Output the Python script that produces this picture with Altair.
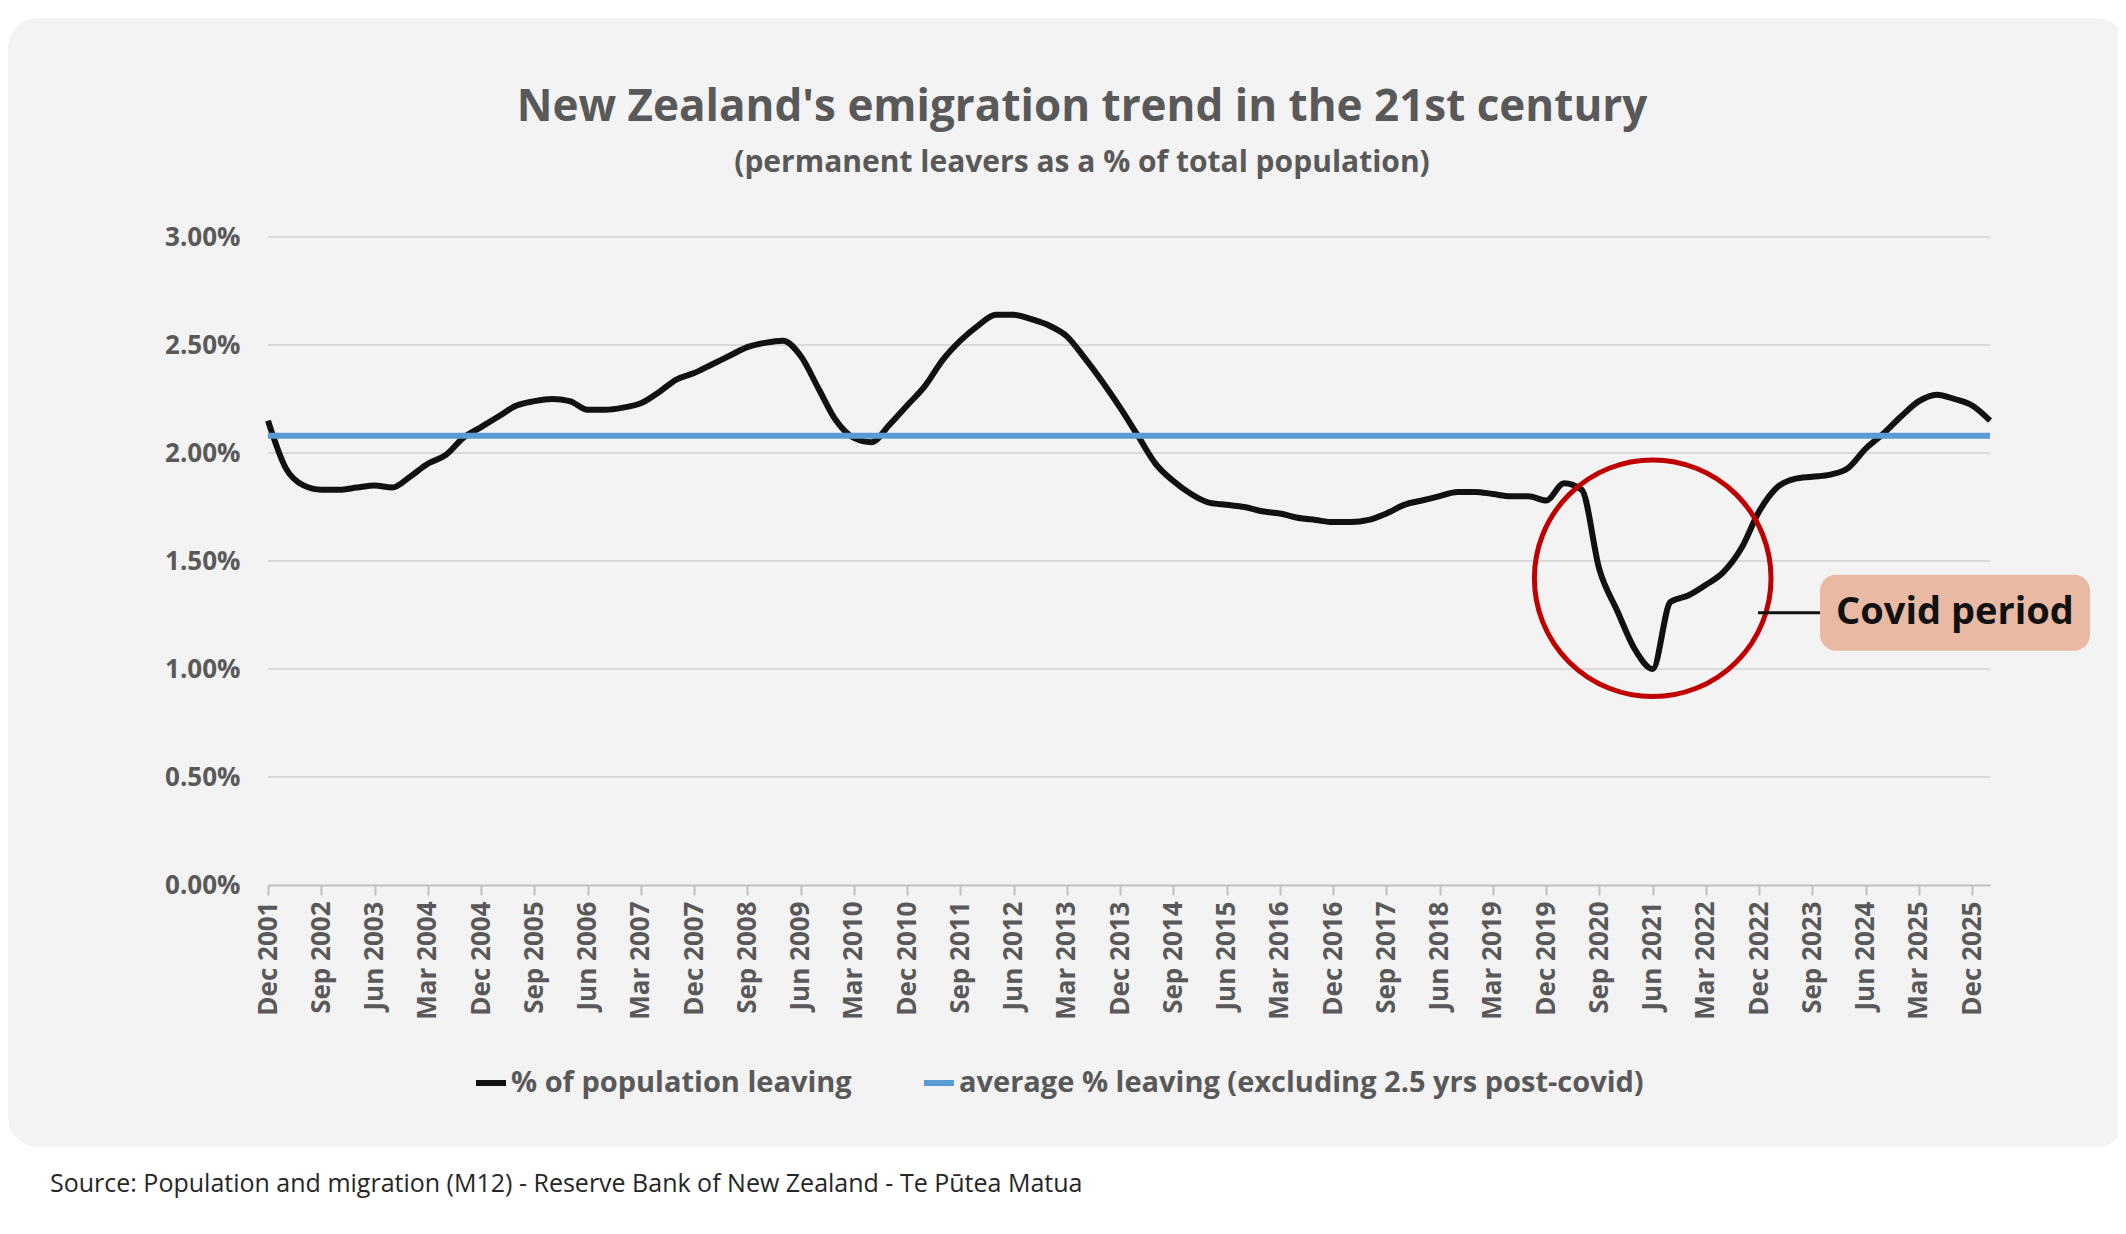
import altair as alt
import pandas as pd

months = ["Mar", "Jun", "Sep", "Dec"]
quarters = ["Dec 2001"] + [f"{m} {y}" for y in range(2002, 2027) for m in months][:97]

leaving = [2.15, 1.93, 1.85, 1.83, 1.83, 1.84, 1.85, 1.84, 1.89, 1.95, 1.99, 2.07,
           2.12, 2.17, 2.22, 2.24, 2.25, 2.24, 2.20, 2.20, 2.21, 2.23, 2.28, 2.34,
           2.37, 2.41, 2.45, 2.49, 2.51, 2.52, 2.45, 2.30, 2.15, 2.07, 2.05, 2.13,
           2.22, 2.31, 2.43, 2.52, 2.59, 2.64, 2.64, 2.62, 2.59, 2.54, 2.44, 2.33,
           2.21, 2.08, 1.95, 1.87, 1.81, 1.77, 1.76, 1.75, 1.73, 1.72, 1.70, 1.69,
           1.68, 1.68, 1.69, 1.72, 1.76, 1.78, 1.80, 1.82, 1.82, 1.81, 1.80, 1.80,
           1.78, 1.86, 1.83, 1.46, 1.27, 1.09, 1.00, 1.31, 1.34, 1.39, 1.45, 1.56,
           1.73, 1.84, 1.88, 1.89, 1.90, 1.93, 2.02, 2.09, 2.17, 2.24, 2.27, 2.25,
           2.22, 2.15, 2.08]
leaving = leaving[:len(quarters)]
average = 2.08
y_ticks = [0, 0.005, 0.01, 0.015, 0.02, 0.025, 0.03]

s1 = "% of population leaving"
s2 = "average % leaving (excluding 2.5 yrs post-covid)"
rows = [{"q": q, "v": leaving[i] / 100, "s": s1, "o": i} for i, q in enumerate(quarters)]
rows += [{"q": q, "v": average / 100, "s": s2, "o": i} for i, q in enumerate(quarters)]
df = pd.DataFrame(rows)

FONT = "Open Sans"
W, H = 1722, 648
tick_vals = quarters[::3]

x = alt.X("q:O", sort=quarters, title=None,
          scale=alt.Scale(padding=0),
          axis=alt.Axis(values=tick_vals, labelAngle=-90, labelFontSize=26, labelFont=FONT,
                        labelFontWeight="bold", labelColor="#595959", domainColor="#bfbfbf",
                        domainWidth=2, tickColor="#bfbfbf", tickWidth=2, tickSize=10,
                        labelPadding=6, grid=False, zindex=1))
y = alt.Y("v:Q", title=None, scale=alt.Scale(domain=[0, 0.03]),
          axis=alt.Axis(format=".2%", values=y_ticks, labelFontSize=26, labelFont=FONT,
                        labelFontWeight="bold", labelColor="#595959", domain=False,
                        ticks=False, grid=False, labelPadding=28, zindex=1))

card = alt.Chart(pd.DataFrame({"a": [0]})).mark_rect(color="#f3f3f3", cornerRadius=30).encode(
    x=alt.value(-260), x2=alt.value(1858), y=alt.value(-219), y2=alt.value(910))

grid = alt.Chart(pd.DataFrame({"v": y_ticks[1:]})).mark_rule(color="#d9d9d9", strokeWidth=2).encode(
    y=alt.Y("v:Q", scale=alt.Scale(domain=[0, 0.03])), x=alt.value(0), x2=alt.value(W))

lines = alt.Chart(df).mark_line(strokeWidth=6, interpolate="monotone").encode(
    x=x, y=y, detail="s:N",
    color=alt.Color("s:N",
                    scale=alt.Scale(domain=[s1, s2], range=["#111111", "#5b9bd5"]),
                    legend=alt.Legend(title=None, orient="none", legendX=205, legendY=828,
                                      direction="horizontal", symbolType="stroke",
                                      symbolStrokeWidth=6, symbolSize=900, labelFontSize=29,
                                      labelFont=FONT, labelFontWeight="bold",
                                      labelColor="#595959", columnPadding=60, labelOffset=2,
                                      labelLimit=800)),
    order=alt.Order("o:Q"))

ann = pd.DataFrame({"q": ["Jun 2021"], "v": [0.0142]})
circle = alt.Chart(ann).mark_point(shape="circle", size=56000, stroke="#c00000",
                                   strokeWidth=5, filled=False, opacity=1).encode(
    x=alt.X("q:O", sort=quarters), y="v:Q")

cy = H - 0.0126 / 0.03 * H
conn = alt.Chart(ann).mark_rule(color="#111111", strokeWidth=3).encode(
    x=alt.value(1490), x2=alt.value(1552), y=alt.value(cy))
box = alt.Chart(ann).mark_rect(color="#e9b9a3", cornerRadius=16).encode(
    x=alt.value(1552), x2=alt.value(1822), y=alt.value(cy - 38), y2=alt.value(cy + 38))
box_txt = alt.Chart(ann).mark_text(text="Covid period", font=FONT, fontSize=38,
                                   fontWeight="bold", color="#111111").encode(
    x=alt.value(1687), y=alt.value(cy))

def txt(t, px, py, size, weight="bold", color="#595959", align="center"):
    return alt.Chart(ann).mark_text(text=t, font=FONT, fontSize=size, fontWeight=weight,
                                    color=color, align=align).encode(
        x=alt.value(px), y=alt.value(py))

title = txt("New Zealand's emigration trend in the 21st century", 814, -129, 44)
sub = txt("(permanent leavers as a % of total population)", 814, -74, 30)
src = txt("Source: Population and migration (M12) - Reserve Bank of New Zealand - Te Pūtea Matua",
          -218, 947, 25, weight="normal", color="#262626", align="left")

chart = alt.layer(card, grid, lines, circle, conn, box, box_txt, title, sub, src).properties(
    width=W, height=H, background="white",
    autosize=alt.AutoSizeParams(type="none"),
    padding={"left": 260, "top": 229, "right": 128, "bottom": 341}
).configure_view(stroke=None)

chart.save("out.html", embed_options={"renderer": "svg", "actions": False})
